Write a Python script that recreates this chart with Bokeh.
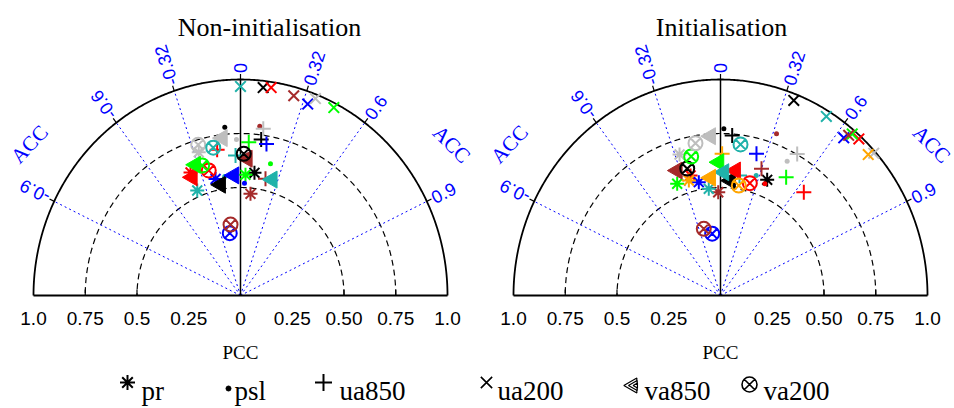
import math
import numpy as np
from bokeh.plotting import figure
from bokeh.layouts import column, row
from bokeh.models import Range1d, ColumnDataSource
from bokeh.core.properties import value
from bokeh.embed import file_html
from bokeh.resources import INLINE

nan = float("nan")

# model colours (same order in every list below)
model_colors = ["#000000", "#FF0000", "#0000FF", "#00FF00", "#A52A2A", "#BEBEBE", "#20B2AA", "#FFA500"]
variables = ["pr", "psl", "ua850", "ua200", "va850", "va200"]

# ---------------- Non-initialisation (PCC = radius, ACC = sine of angle from vertical)
ni_pr_pcc = [0.572, 0.619, 0.553, 0.559, 0.473, 0.693, 0.529, nan]
ni_pr_acc = [0.118, -0.390, -0.218, 0.043, 0.102, -0.291, -0.395, nan]
ni_psl_pcc = [0.783, nan, 0.520, 0.627, 0.789, 0.722, 0.556, nan]
ni_psl_acc = [-0.097, nan, 0.037, 0.231, 0.118, -0.027, -0.137, nan]
ni_ua850_pcc = [0.729, 0.684, 0.713, 0.711, 0.554, 0.780, 0.649, nan]
ni_ua850_acc = [0.137, -0.165, 0.176, 0.056, 0.218, 0.141, -0.037, nan]
ni_ua200_pcc = [0.969, 0.974, 0.944, 0.980, 0.960, 0.981, 0.968, nan]
ni_ua200_acc = [0.113, 0.152, 0.344, 0.460, 0.268, 0.369, 0.000, nan]
ni_va850_pcc = [0.522, 0.595, 0.557, 0.643, 0.634, 0.734, 0.558, nan]
ni_va850_acc = [-0.185, -0.392, -0.058, -0.338, 0.051, -0.120, 0.274, nan]
ni_va200_pcc = [0.656, 0.599, 0.293, 0.630, 0.332, 0.727, 0.697, nan]
ni_va200_acc = [0.024, -0.256, -0.177, -0.294, -0.145, -0.281, -0.189, nan]

# ---------------- Initialisation
in_pr_pcc = [0.581, 0.574, 0.535, 0.558, 0.478, 0.682, 0.497, 0.554]
in_pr_acc = [0.388, -0.252, -0.196, -0.375, -0.023, -0.290, -0.114, -0.276]
in_psl_pcc = [0.772, 0.560, nan, 0.616, 0.796, 0.700, 0.582, nan]
in_psl_acc = [0.021, 0.383, nan, -0.031, 0.340, 0.460, 0.296, nan]
in_ua850_pcc = [0.743, 0.625, 0.679, 0.633, 0.619, 0.753, 0.563, 0.656]
in_ua850_acc = [0.076, 0.644, 0.256, 0.501, 0.320, 0.492, 0.163, 0.012]
in_ua200_pcc = [0.970, 0.986, 0.942, 0.982, 0.966, 0.991, 0.974, 0.967]
in_ua200_acc = [0.365, 0.678, 0.632, 0.648, 0.641, 0.747, 0.525, 0.738]
in_va850_pcc = [0.534, 0.583, nan, 0.617, 0.615, 0.739, 0.571, 0.547]
in_va850_acc = [0.090, 0.124, nan, -0.013, -0.340, -0.065, 0.028, -0.088]
in_va200_pcc = [0.609, 0.539, 0.289, 0.659, 0.319, 0.715, 0.706, 0.517]
in_va200_acc = [-0.264, 0.263, -0.139, -0.215, -0.253, -0.169, 0.137, 0.171]

# axis ticks / labels
pcc_ticks = [-1.0, -0.75, -0.5, -0.25, 0.0, 0.25, 0.5, 0.75, 1.0]
pcc_tick_labels = ["1.0", "0.75", "0.5", "0.25", "0", "0.25", "0.50", "0.75", "1.0"]
acc_ticks = [-0.9, -0.6, -0.32, 0.0, 0.32, 0.6, 0.9]
acc_tick_labels = ["-0.9", "-0.6", "-0.32", "0", "0.32", "0.6", "0.9"]
dashed_radii = [0.5, 0.75]
small_ticks = [-0.75, -0.5, 0.5, 0.75]

ni_data = {"pr": (ni_pr_pcc, ni_pr_acc), "psl": (ni_psl_pcc, ni_psl_acc),
           "ua850": (ni_ua850_pcc, ni_ua850_acc), "ua200": (ni_ua200_pcc, ni_ua200_acc),
           "va850": (ni_va850_pcc, ni_va850_acc), "va200": (ni_va200_pcc, ni_va200_acc)}
in_data = {"pr": (in_pr_pcc, in_pr_acc), "psl": (in_psl_pcc, in_psl_acc),
           "ua850": (in_ua850_pcc, in_ua850_acc), "ua200": (in_ua200_pcc, in_ua200_acc),
           "va850": (in_va850_pcc, in_va850_acc), "va200": (in_va200_pcc, in_va200_acc)}

SX, SY = 207.0, 216.0   # pixels per unit
H = 368
CY = 295

SANS = value("Liberation Sans")
SERIF = value("Liberation Serif")

marker_style = {
    "pr": dict(marker="asterisk", size=14, line_width=2, fill_alpha=0),
    "psl": dict(marker="circle", size=5, line_width=0),
    "ua850": dict(marker="cross", size=15, line_width=2),
    "ua200": dict(marker="x", size=15, line_width=2),
    "va850": dict(marker="triangle", size=17, line_width=1, angle=math.pi / 2),
    "va200": dict(marker="circle_x", size=14, line_width=2, fill_alpha=0),
}


def polar(pcc, acc):
    pcc = np.asarray(pcc, dtype=float)
    acc = np.asarray(acc, dtype=float)
    return pcc * acc, pcc * np.sqrt(1 - acc ** 2)


def panel(width, cx, title, title_x, data):
    p = figure(width=width, height=H, output_backend="svg", toolbar_location=None,
               x_range=Range1d(-cx / SX, (width - cx) / SX),
               y_range=Range1d(-(H - CY) / SY, CY / SY),
               x_axis_location=None, y_axis_location=None, min_border=0, title=None,
               outline_line_color=None, background_fill_color="white",
               border_fill_color="white")
    p.grid.grid_line_color = None

    t = np.linspace(0, np.pi, 400)
    for r in dashed_radii:
        p.line(r * np.cos(t), r * np.sin(t), line_color="black", line_width=1.2, line_dash="6 4")
    # blue dotted ACC lines
    for a in acc_ticks:
        if a == 0:
            continue
        p.segment(x0=[0], y0=[0], x1=[a], y1=[math.sqrt(1 - a * a)],
                  line_color="#0000FF", line_width=1, line_dash="2 3")
    p.line(np.cos(t), np.sin(t), line_color="black", line_width=1.8)
    p.line([-1, 1], [0, 0], line_color="black", line_width=1.8)
    p.line([0, 0], [0, 1], line_color="black", line_width=1.5)
    p.segment(x0=small_ticks, y0=[0] * 4, x1=small_ticks, y1=[6 / SY] * 4,
              line_color="black", line_width=1.2)
    # ticks on the outer arc + rotated labels
    for a, lab in zip(acc_ticks, acc_tick_labels):
        c = math.sqrt(1 - a * a)
        p.segment(x0=[a], y0=[c], x1=[1.025 * a], y1=[1.025 * c], line_color="black", line_width=1.2)
        ang = math.atan2(SY * c, SX * a)
        p.text(x=[1.03 * a], y=[1.03 * c], text=[lab], angle=ang, text_align="left",
               text_baseline="middle", text_font=SANS, text_font_size="18px", text_color="#0000FF")
    # ACC axis names
    p.text(x=[-1.02, 1.02], y=[0.70, 0.70], text=["ACC", "ACC"], angle=[math.radians(47), math.radians(-45)],
           text_align="center", text_baseline="middle", text_font=SERIF,
           text_font_size="21px", text_color="#0000FF")

    # data points
    for v in variables:
        pcc, acc = data[v]
        x, y = polar(pcc, acc)
        src = ColumnDataSource(dict(x=x, y=y, c=model_colors))
        st = dict(marker_style[v])
        if v in ("psl", "va850"):
            p.scatter("x", "y", source=src, line_color="c", fill_color="c", **st)
        else:
            p.scatter("x", "y", source=src, line_color="c", **st)

    # PCC tick labels and name
    p.text(x=pcc_ticks, y=[-23 / SY] * len(pcc_ticks), text=pcc_tick_labels, text_align="center",
           text_baseline="middle", text_font=SANS, text_font_size="19px", text_color="black")
    p.text(x=[0], y=[-57 / SY], text=["PCC"], text_align="center", text_baseline="alphabetic",
           text_font=SERIF, text_font_size="19px", text_color="black")
    p.text(x=[title_x], y=[268 / SY], text=[title], text_align="center", text_baseline="alphabetic",
           text_font=SERIF, text_font_size="26px", text_color="black")
    return p


p1 = panel(480, 240, "Non-initialisation", 29 / SX, ni_data)
p2 = panel(474, 240, "Initialisation", 1 / SX, in_data)

# legend strip
LH = 38
leg = figure(width=954, height=LH, output_backend="svg", toolbar_location=None,
             x_range=Range1d(0, 954), y_range=Range1d(0, LH), x_axis_location=None,
             y_axis_location=None, min_border=0, title=None, outline_line_color=None)
leg.grid.grid_line_color = None
leg_x = [127, 228, 323, 486, 632, 749]
leg_tx = [141, 234, 339, 497, 644, 763]
ly = 24
leg.scatter([leg_x[0]], [ly], marker="asterisk", size=15, line_color="black", line_width=2)
leg.scatter([leg_x[1]], [ly - 6], marker="circle", size=5, fill_color="black", line_color="black")
leg.scatter([leg_x[2]], [ly], marker="cross", size=17, line_color="black", line_width=2)
leg.scatter([leg_x[3]], [ly], marker="x", size=16, line_color="black", line_width=1.6)
for s in (15, 10, 5):
    leg.scatter([leg_x[4] + (15 - s) * 0.35], [ly - 3], marker="triangle", size=s, angle=math.pi / 2,
                line_color="black", fill_color="white", line_width=1.2)
leg.scatter([leg_x[5]], [ly - 2], marker="circle_x", size=15, line_color="black", line_width=1.6,
            fill_alpha=0)
leg.text(x=leg_tx, y=[16] * 6, text=variables, text_align="left", text_baseline="alphabetic",
         text_font=SERIF, text_font_size="27px", text_color="black")

layout = column(row(p1, p2), leg)
open("out.html", "w").write(file_html(layout, INLINE))
